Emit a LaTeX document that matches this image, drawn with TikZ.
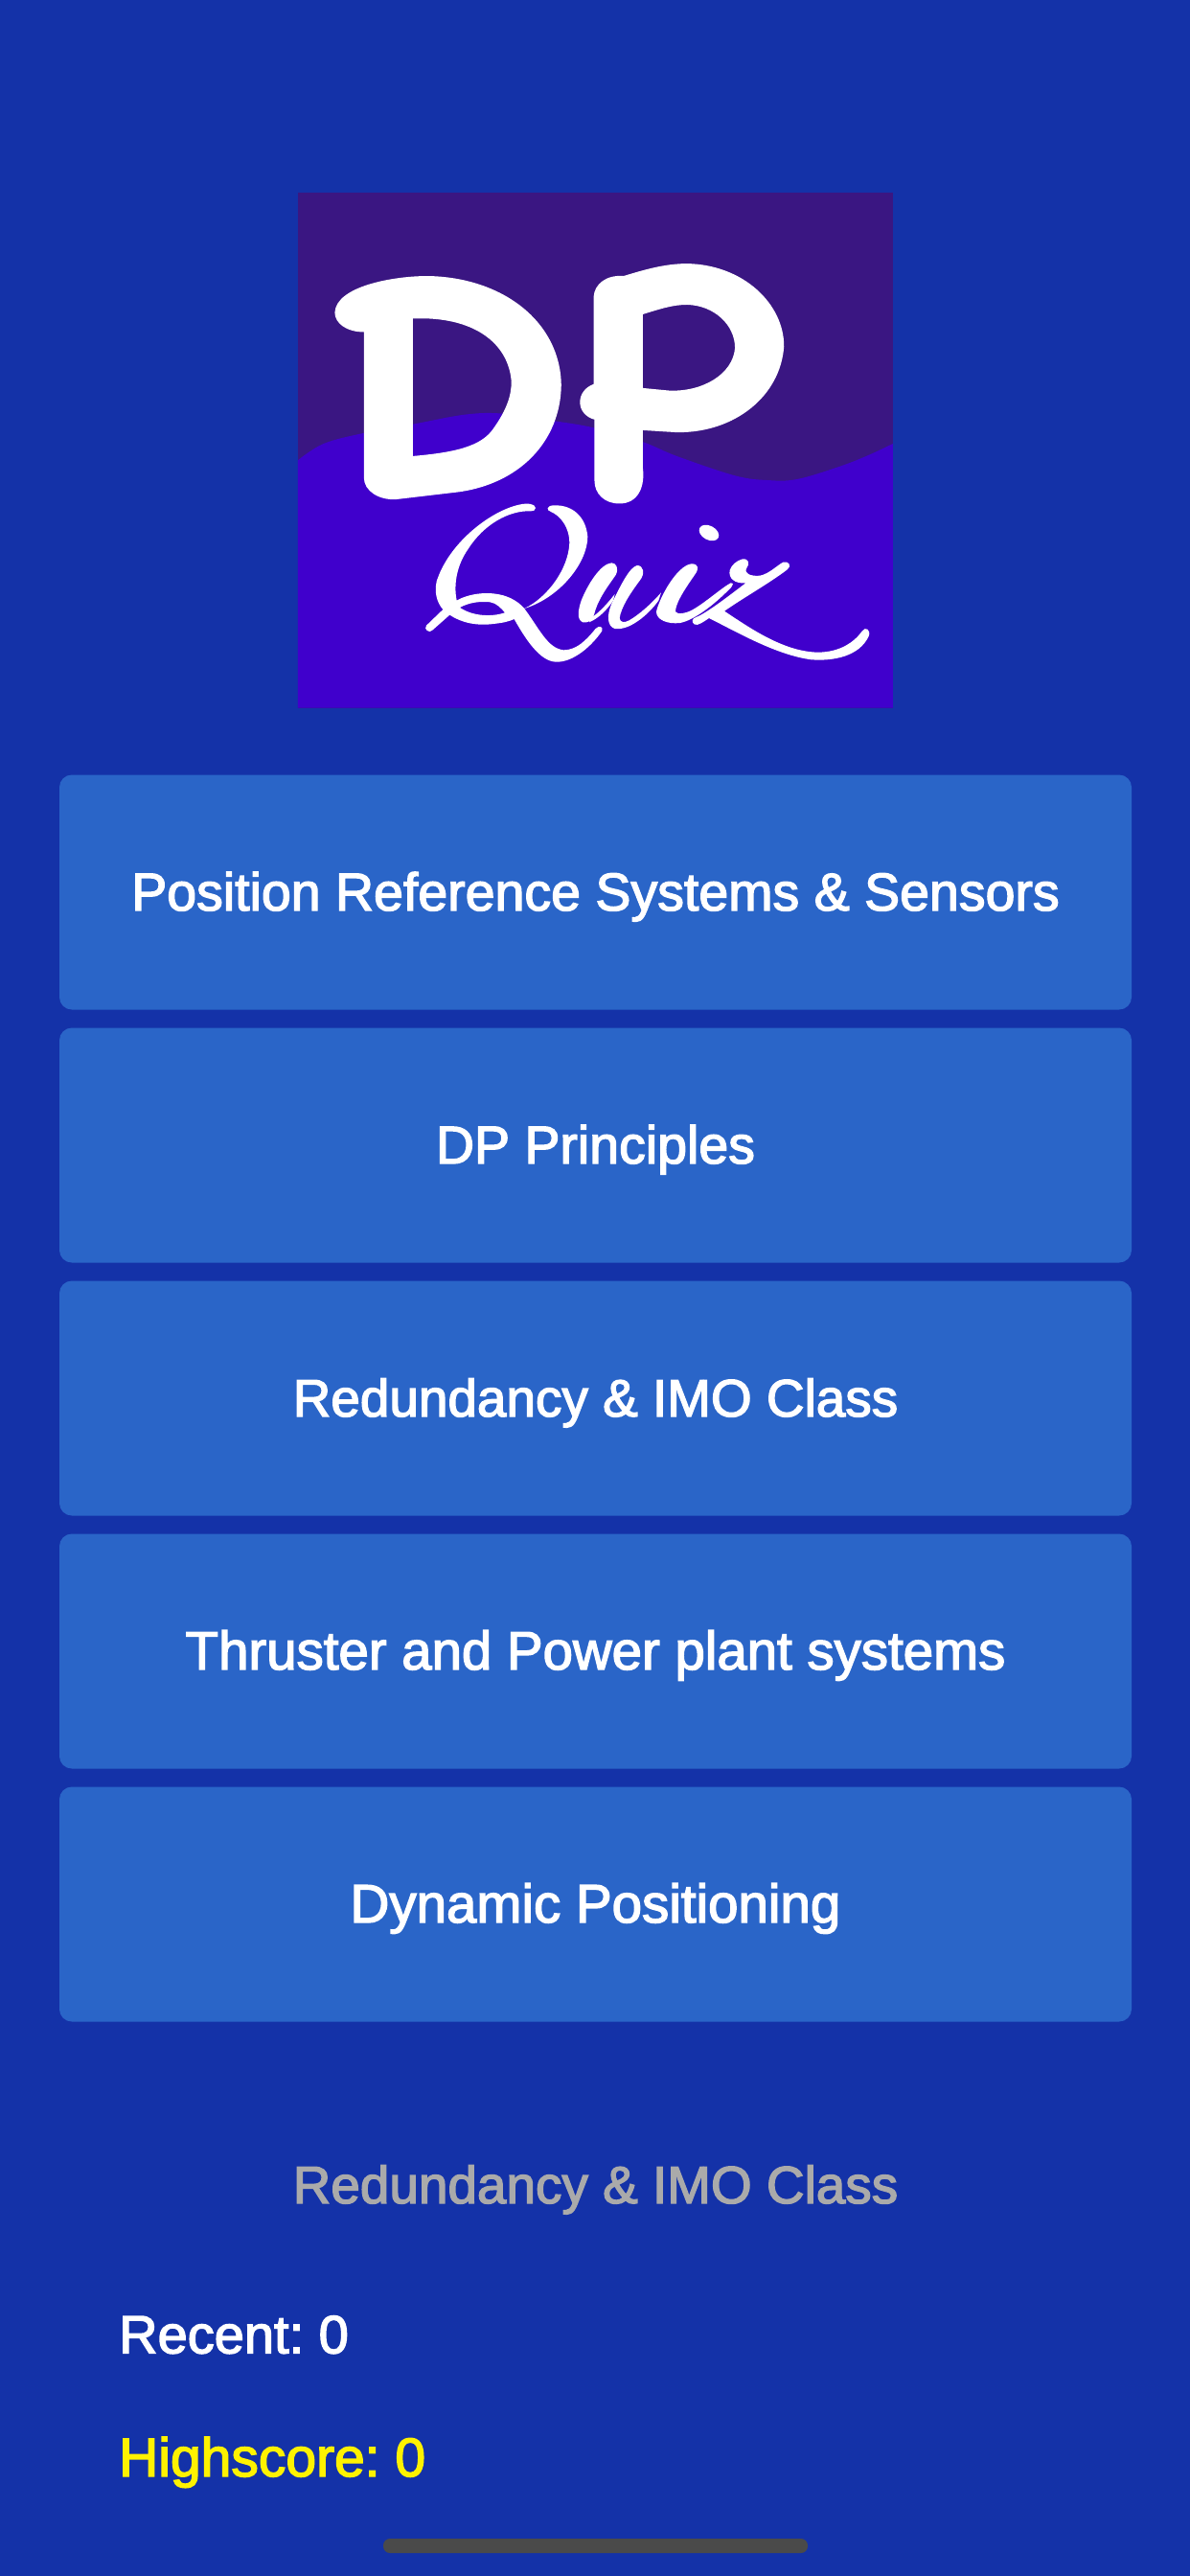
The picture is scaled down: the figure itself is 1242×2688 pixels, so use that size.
\documentclass[tikz,border=0pt]{standalone}
\usepackage{fontspec}
\setmainfont{Liberation Sans}
\newfontfamily\uifont[FakeBold=2.5]{Liberation Sans}
\definecolor{screenbg}{RGB}{20,50,168}
\definecolor{menubtn}{RGB}{42,101,200}
\definecolor{logotop}{RGB}{58,22,130}
\definecolor{logolow}{RGB}{64,0,204}
\definecolor{bargray}{RGB}{74,74,74}
\definecolor{labelgray}{RGB}{170,170,170}
\newcommand{\uisize}[1]{\uifont\fontsize{#1}{60}\selectfont}
\tikzset{
    uitext/.style={text height=38pt, text depth=0pt, inner sep=0pt},
    menubox/.style={uitext, fill=menubtn, rounded corners=13pt, minimum width=1119pt, minimum height=245pt, text=white},
    logoink/.style={fill=white, even odd rule},
}
\begin{document}
\frenchspacing
\begin{tikzpicture}[x=1pt,y=-1pt]
    \fill[screenbg] (0,0) rectangle (1242,2688);
    \useasboundingbox (0,0) rectangle (1242,2688);
    % logo
    \fill[logotop] (311,201) rectangle (932,738.5);
    \begin{scope}[shift={(290,180)},x=0.4337pt,y=-0.3699pt]
        \fill[logolow] plot[smooth,tension=0.6] coordinates {(48,812) (110,765) (207,735) (325,710) (450,683) (540,680) (660,700) (760,720) (878,760) (960,800) (1100,855) (1180,868) (1250,865) (1350,830) (1420,798) (1480,765)} -- (1480,1510) -- (48,1510) -- cycle;
        \fill[logoink] (207,450) -- (207,860) .. controls (207,900) and (245,925) .. (285,922) -- (430,902) .. controls (580,880) and (680,760) .. (682,600) .. controls (680,420) and (540,295) .. (360,292) .. controls (280,292) and (140,320) .. (137,395) .. controls (137,425) and (165,450) .. (207,450) -- cycle
            (325,412) -- (325,800) .. controls (420,790) and (490,775) .. (520,720) .. controls (550,670) and (562,630) .. (562,590) .. controls (555,480) and (470,405) .. (325,412) -- cycle;
        \fill[logoink] (760,350) .. controls (762,315) and (790,288) .. (832,292) .. controls (880,275) and (930,257) .. (985,257) .. controls (1120,260) and (1218,370) .. (1218,490) .. controls (1210,630) and (1100,735) .. (960,733) -- (878,727) -- (878,830) .. controls (885,890) and (865,934) .. (822,934) .. controls (785,934) and (762,905) .. (762,870) -- (762,697) .. controls (740,690) and (727,670) .. (727,648) .. controls (727,625) and (740,605) .. (760,597) -- cycle
            (878,400) .. controls (920,385) and (950,373) .. (985,373) .. controls (1050,375) and (1100,430) .. (1100,495) .. controls (1095,570) and (1020,620) .. (940,615) -- (878,608) -- cycle;
    \end{scope}
    \begin{scope}[shift={(435,510)},x=0.3333pt,y=-0.3333pt]
        \fill[logoink] (372,60) .. controls (370,46) and (345,44) .. (320,50) .. controls (230,70) and (100,170) .. (62,290) .. controls (55,325) and (62,355) .. (82,378) -- (30,428) .. controls (20,440) and (40,455) .. (50,442) -- (103,395) .. controls (140,420) and (190,430) .. (240,423) .. controls (270,420) and (290,415) .. (305,408) .. controls (340,470) and (385,540) .. (435,542) .. controls (490,545) and (550,490) .. (580,445) .. controls (585,430) and (570,428) .. (560,438) .. controls (530,475) and (500,505) .. (460,505) .. controls (410,500) and (385,440) .. (337,375) .. controls (450,340) and (535,230) .. (535,150) .. controls (530,90) and (490,50) .. (430,52) .. controls (405,52) and (405,68) .. (420,72) .. controls (450,85) and (478,120) .. (478,170) .. controls (475,250) and (410,340) .. (337,375) .. controls (315,350) and (280,328) .. (220,327) .. controls (180,327) and (145,338) .. (125,350) .. controls (115,300) and (125,240) .. (160,190) .. controls (210,110) and (290,68) .. (355,70) .. controls (365,70) and (372,68) .. (372,60) -- cycle
            (135,372) .. controls (165,355) and (200,352) .. (230,355) .. controls (250,358) and (265,375) .. (276,388) .. controls (240,400) and (180,402) .. (135,372) -- cycle;
    \end{scope}
    \begin{scope}[shift={(610,510)},x=0.3333pt,y=-0.3333pt]
        \fill[white] (85,232) .. controls (100,232) and (108,250) .. (98,270) .. controls (70,310) and (40,350) .. (30,395) .. controls (25,415) and (10,420) .. (-5,418) .. controls (-25,410) and (-20,380) .. (-10,350) .. controls (10,300) and (50,235) .. (85,232) -- cycle;
        \fill[white] (20,405) .. controls (50,385) and (75,355) .. (95,330) -- (90,350) .. controls (70,380) and (45,405) .. (15,418) -- cycle;
        \fill[white] (165,240) .. controls (185,240) and (190,265) .. (175,285) .. controls (145,325) and (115,370) .. (110,405) .. controls (112,420) and (125,420) .. (140,412) .. controls (170,395) and (210,360) .. (240,325) -- (232,350) .. controls (200,395) and (140,445) .. (95,438) .. controls (70,430) and (70,395) .. (85,360) .. controls (110,310) and (140,245) .. (165,240) -- cycle;
        \fill[white] (335,235) .. controls (358,235) and (360,250) .. (345,270) .. controls (310,320) and (285,360) .. (285,385) .. controls (290,395) and (320,390) .. (340,378) .. controls (380,355) and (430,310) .. (458,295) .. controls (468,295) and (465,302) .. (460,308) .. controls (420,350) and (350,410) .. (300,420) .. controls (260,425) and (225,410) .. (225,385) .. controls (235,340) and (290,240) .. (335,235) -- cycle;
        \fill[white, rotate around={-28:(390,138)}] (390,138) ellipse [x radius=33, y radius=22];
    \end{scope}
    \begin{scope}[shift={(740,570)},x=0.3333pt,y=-0.3333pt]
        \fill[white] (105,40) .. controls (125,38) and (128,55) .. (118,68) .. controls (108,85) and (130,95) .. (160,92) .. controls (190,85) and (210,62) .. (232,50) .. controls (250,45) and (260,62) .. (245,73) .. controls (190,115) and (110,160) .. (48,203) .. controls (120,250) and (230,330) .. (340,332) .. controls (410,332) and (455,300) .. (480,265) .. controls (490,250) and (508,262) .. (500,282) .. controls (470,345) and (390,360) .. (320,355) .. controls (210,340) and (90,270) .. (0,225) .. controls (-15,235) and (-35,250) .. (-45,245) .. controls (-55,240) and (-55,225) .. (-40,222) .. controls (-10,210) and (50,165) .. (115,115) .. controls (80,118) and (60,100) .. (65,75) .. controls (70,60) and (85,45) .. (105,40) -- cycle;
    \end{scope}
    % menu buttons
    \foreach \name/\ypos/\fsize/\caption in {posref/931/55.5/Position Reference Systems \& Sensors, dpprin/1195/55.5/DP Principles, redund/1459/54.9/Redundancy \& IMO Class, thrust/1723/56.4/Thruster and Power plant systems, dynpos/1987/56.5/Dynamic Positioning}
        \node[menubox, font=\uisize{\fsize}] (\name) at (621.5,\ypos) {\caption};
    \node[uitext, font=\uisize{54.9}, text=labelgray] (lastcat) at (621.5,2280) {Redundancy \& IMO Class};
    \node[uitext, font=\uisize{56}, text=white, anchor=base west] (recent) at (124,2455.5) {Recent: 0};
    \node[uitext, font=\uisize{57}, text=yellow, anchor=base west] (highscore) at (124,2584) {Highscore: 0};
    \fill[bargray, rounded corners=7pt] (400,2649) rectangle (843,2664);
\end{tikzpicture}
\end{document}
